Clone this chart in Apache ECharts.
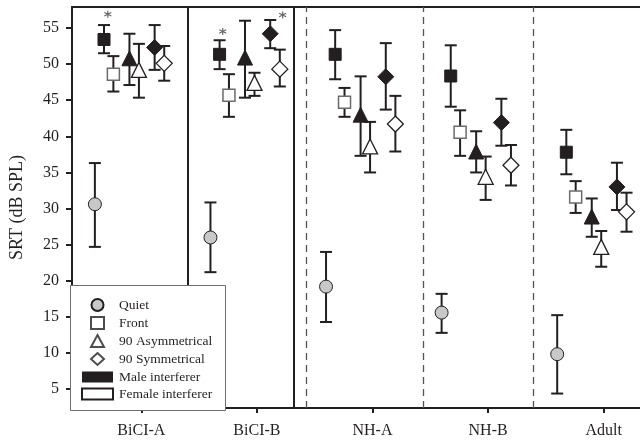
<!DOCTYPE html>
<html lang="en">
<head>
    <meta charset="UTF-8">
    <title>SRT by group</title>
    <script src="https://cdn.jsdelivr.net/npm/echarts/dist/echarts.min.js"></script>
    <style>
        html, body { margin: 0; padding: 0; background: #fff; }
        #chart { width: 640px; height: 444px; }
    </style>
</head>
<body>
<div id="chart"></div>

<script>
    // groups along the x axis
    const groups = ['BiCI-A', 'BiCI-B', 'NH-A', 'NH-B', 'Adult'];
    const yTicks = [5, 10, 15, 20, 25, 30, 35, 40, 45, 50, 55];

    // mean SRT and error bar ends (dB SPL), one value per group
    const quiet       = [30.6, 26.0, 19.2, 15.6, 9.85];
    const quietLo     = [24.7, 21.2, 14.3, 12.8, 4.4];
    const quietHi     = [36.3, 30.85, 24.0, 18.2, 15.25];

    const maleFront   = [53.4, 51.35, 51.35, 48.35, 37.8];
    const maleFrontLo = [51.5, 49.3, 47.9, 44.1, 34.75];
    const maleFrontHi = [55.4, 53.3, 54.7, 52.6, 40.9];

    const femFront    = [48.6, 45.7, 44.7, 40.55, 31.6];
    const femFrontLo  = [46.2, 42.7, 42.7, 37.3, 29.4];
    const femFrontHi  = [51.1, 48.6, 46.7, 43.6, 33.8];

    const maleAsym    = [50.8, 50.9, 43.0, 37.9, 28.9];
    const maleAsymLo  = [47.1, 45.35, 37.3, 35.0, 26.1];
    const maleAsymHi  = [54.2, 56.0, 48.3, 40.7, 31.4];

    const femAsym     = [49.2, 47.4, 38.6, 34.4, 24.7];
    const femAsymLo   = [45.35, 45.6, 35.0, 31.2, 21.95];
    const femAsymHi   = [52.8, 48.8, 42.0, 37.2, 26.9];

    const maleSym     = [52.3, 54.2, 48.25, 41.9, 33.0];
    const maleSymLo   = [49.2, 52.2, 43.7, 38.7, 29.8];
    const maleSymHi   = [55.4, 56.1, 52.9, 45.2, 36.35];

    const femSym      = [50.1, 49.3, 41.7, 36.0, 29.55];
    const femSymLo    = [47.7, 46.9, 37.9, 33.2, 26.8];
    const femSymHi    = [52.5, 52.0, 45.6, 38.8, 32.2];

    // significance asterisks: group index and value
    const starGroup = [0, 1, 1];
    const starValue = [56.9, 54.5, 56.8];

    const ink = '#231f20';
    const font = 'Liberation Serif';

    // horizontal offset of each condition inside a group
    const OFF = { quiet: -0.402, mf: -0.323, ff: -0.242, ma: -0.103, fa: -0.021, ms: 0.115, fs: 0.198 };
    const starOff = [-0.29, -0.296, 0.223];

    function pts(vals, off) {
        return vals.map((v, i) => [i + 1 + off, v]);
    }
    function bars(lo, hi, off) {
        return lo.map((l, i) => [i + 1 + off, l, hi[i]]);
    }

    function renderErr(params, api) {
        const x = api.value(0);
        const a = api.coord([x, api.value(1)]);
        const b = api.coord([x, api.value(2)]);
        const w = 6;
        const style = { stroke: ink, lineWidth: 2 };
        return {
            type: 'group',
            children: [
                { type: 'line', shape: { x1: a[0], y1: a[1], x2: b[0], y2: b[1] }, style: style },
                { type: 'line', shape: { x1: a[0] - w, y1: a[1], x2: a[0] + w, y2: a[1] }, style: style },
                { type: 'line', shape: { x1: b[0] - w, y1: b[1], x2: b[0] + w, y2: b[1] }, style: style }
            ]
        };
    }

    const errData = [].concat(
        bars(quietLo, quietHi, OFF.quiet),
        bars(maleFrontLo, maleFrontHi, OFF.mf),
        bars(femFrontLo, femFrontHi, OFF.ff),
        bars(maleAsymLo, maleAsymHi, OFF.ma),
        bars(femAsymLo, femAsymHi, OFF.fa),
        bars(maleSymLo, maleSymHi, OFF.ms),
        bars(femSymLo, femSymHi, OFF.fs)
    );

    const filled = { color: ink, borderColor: ink, borderWidth: 1, opacity: 1 };
    const open = { color: '#fff', borderColor: ink, borderWidth: 1.3, opacity: 1 };

    function marks(name, data, symbol, size, style) {
        return {
            name: name, type: 'scatter', data: data, symbol: symbol, symbolSize: size,
            itemStyle: style, z: 5, silent: true
        };
    }

    // separators between groups (x positions on the axis)
    const sepSolid = [1.4026, 2.3222];
    const sepDashed = [2.4256, 3.4427, 4.3915];

    const chart = echarts.init(document.getElementById('chart'));
    const option = {
        animation: false,
        grid: { left: 71, top: 7, width: 575, height: 401 },
        xAxis: [
            {
                type: 'value', min: 0.4, max: 5.3145, position: 'bottom',
                splitLine: { show: false },
                axisLine: { lineStyle: { color: ink, width: 2 } },
                axisTick: { customValues: [1, 2, 3, 4, 5], length: 5, lineStyle: { color: ink, width: 2 } },
                axisLabel: {
                    customValues: [1, 2, 3, 4, 5],
                    formatter: v => groups[Math.round(v) - 1],
                    color: ink, fontFamily: font, fontSize: 16, margin: 15
                }
            },
            {
                type: 'value', min: 0.4, max: 5.3145, position: 'top',
                splitLine: { show: false },
                axisLine: { lineStyle: { color: ink, width: 2 } },
                axisTick: { show: false },
                axisLabel: { show: false }
            }
        ],
        yAxis: {
            type: 'value', min: 2.4, max: 57.9,
            name: 'SRT (dB SPL)', nameLocation: 'middle', nameGap: 46,
            nameTextStyle: { color: ink, fontFamily: font, fontSize: 18 },
            splitLine: { show: false },
            axisLine: { show: true, lineStyle: { color: ink, width: 2 } },
            axisTick: { customValues: yTicks, length: 6, lineStyle: { color: ink, width: 2 } },
            axisLabel: { customValues: yTicks, color: ink, fontFamily: font, fontSize: 16, margin: 13 }
        },
        legend: [
            {
                orient: 'vertical', left: 90, top: 298, padding: 0, z: 20,
                itemWidth: 13, itemHeight: 12, itemGap: 4,
                selectedMode: false,
                textStyle: { color: ink, fontFamily: font, fontSize: 13.5, padding: [0, 0, 0, 10] },
                data: ['Quiet', 'Front', '90 Asymmetrical', '90 Symmetrical']
            },
            {
                orient: 'vertical', left: 81, top: 370, padding: 0, z: 20,
                itemWidth: 31, itemHeight: 11, itemGap: 3,
                selectedMode: false,
                textStyle: { color: ink, fontFamily: font, fontSize: 13.5, padding: [0, 0, 0, 1] },
                data: [
                    { name: 'Male interferer', icon: 'rect', itemStyle: { color: ink, borderWidth: 0 } },
                    { name: 'Female interferer', icon: 'rect', itemStyle: { color: '#fff', borderColor: ink, borderWidth: 2 } }
                ]
            }
        ],
        graphic: [
            {
                type: 'rect', z: 15, silent: true,
                shape: { x: 70.5, y: 285.5, width: 155, height: 125 },
                style: { fill: '#fff', stroke: '#6d6d6d', lineWidth: 1 }
            }
        ],
        series: [
            {
                name: 'separators', type: 'scatter', data: [], z: 1, silent: true,
                markLine: {
                    silent: true, symbol: ['none', 'none'], label: { show: false }, z: 1,
                    data: sepSolid.map(x => ({ xAxis: x, lineStyle: { color: ink, width: 2, type: 'solid' } }))
                        .concat(sepDashed.map(x => ({ xAxis: x, lineStyle: { color: '#555', width: 1.3, type: [7, 5] } })))
                }
            },
            {
                name: 'error bars', type: 'custom', renderItem: renderErr, data: errData,
                encode: { x: 0, y: [1, 2] }, z: 4, silent: true
            },
            marks('Quiet', pts(quiet, OFF.quiet), 'circle', 13, { color: '#c8c8c8', borderColor: ink, borderWidth: 1, opacity: 1 }),
            marks('male front', pts(maleFront, OFF.mf), 'rect', 12, filled),
            marks('female front', pts(femFront, OFF.ff), 'rect', 12, { color: '#fff', borderColor: '#6a6a6a', borderWidth: 1.5, opacity: 1 }),
            marks('male asym', pts(maleAsym, OFF.ma), 'triangle', 15, filled),
            marks('female asym', pts(femAsym, OFF.fa), 'triangle', 15, open),
            marks('male sym', pts(maleSym, OFF.ms), 'diamond', [16, 16], filled),
            marks('female sym', pts(femSym, OFF.fs), 'diamond', [16, 16], open),
            // legend-only entries
            marks('Front', [], 'rect', 10, { color: '#fff', borderColor: ink, borderWidth: 1.2 }),
            marks('90 Asymmetrical', [], 'triangle', 12, { color: '#fff', borderColor: ink, borderWidth: 1.2 }),
            marks('90 Symmetrical', [], 'diamond', 12, { color: '#fff', borderColor: ink, borderWidth: 1.2 }),
            { name: 'Male interferer', type: 'bar', data: [], itemStyle: { color: ink } },
            { name: 'Female interferer', type: 'bar', data: [], itemStyle: { color: '#fff', borderColor: ink, borderWidth: 2 } },
            {
                name: 'stars', type: 'scatter', silent: true, z: 6,
                data: starGroup.map((g, i) => [g + 1 + starOff[i], starValue[i]]),
                symbol: 'path://M0,-5L0,5M-4.33,-2.5L4.33,2.5M-4.33,2.5L4.33,-2.5',
                symbolSize: 7,
                itemStyle: { color: 'none', borderColor: '#666', borderWidth: 1.2, opacity: 1 }
            }
        ]
    };
    chart.setOption(option);
</script>
</body>
</html>
